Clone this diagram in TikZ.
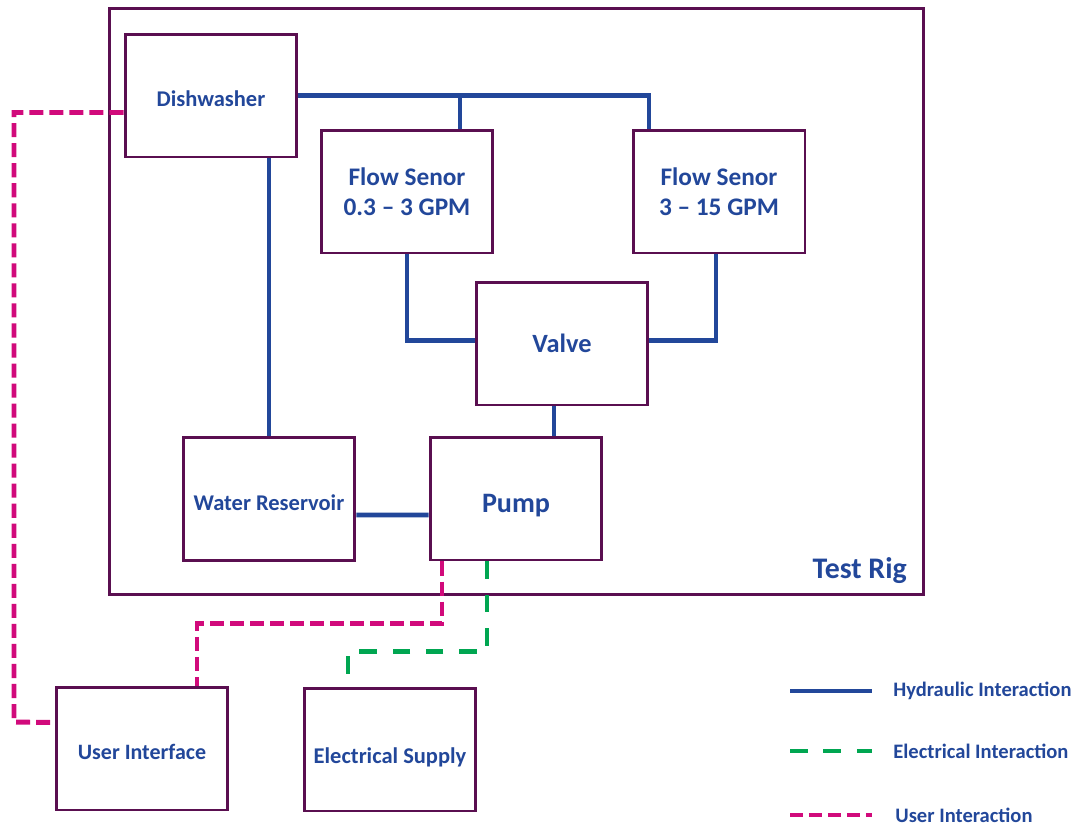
\documentclass[tikz,border=0pt]{standalone}
\usepackage{fontspec}
\setsansfont{Carlito}
\usetikzlibrary{calc}
\definecolor{rigpurple}{HTML}{5A0F50}
\definecolor{hydblue}{HTML}{22479A}
\definecolor{elecgreen}{HTML}{00A651}
\definecolor{usermagenta}{HTML}{D10A7B}

\begin{document}
\begin{tikzpicture}[
    x=0.02cm, y=-0.02cm,
    every node/.style={font=\sffamily\bfseries\fontsize{12.8}{15}\selectfont, text=hydblue},
    partbox/.style={
        draw=rigpurple,
        line width=1.7pt,
        fill=white,
        align=center,
        inner sep=2pt,
        minimum width=3.44cm,
        minimum height=2.46cm
    },
    bigtext/.style={font=\sffamily\bfseries\fontsize{14.4}{17}\selectfont},
    textdown/.style 2 args={text height=#1, text depth=#2},
    legendtext/.style={anchor=west, inner sep=0pt, font=\sffamily\bfseries\fontsize{11.7}{13}\selectfont},
    hydline/.style={draw=hydblue, line width=2.6pt},
    elecline/.style={draw=elecgreen, line width=2.6pt, dash pattern=on 10pt off 9pt},
    userline/.style={draw=usermagenta, line width=2.8pt, dash pattern=on 8pt off 3.4pt}
]
\useasboundingbox (0,0) rectangle (1085,826);

% ---------- test rig frame ----------
\node[draw=rigpurple, line width=1.7pt, minimum width=16.3cm, minimum height=11.74cm] (rig) at (516.5,301.5) {};
\node[anchor=south east, font=\sffamily\bfseries\fontsize{17}{20}\selectfont] (riglabel) at (913,590) {Test Rig};

% ---------- parts inside the rig ----------
\node[partbox, textdown={12.4pt}{0pt}] (dw) at (211,95.5) {Dishwasher};
\node[partbox, bigtext] (fslow) at (407,191.5) {Flow Senor\\0.3 -- 3 GPM};
\node[partbox, bigtext] (fshigh) at (719,191.5) {Flow Senor\\3 -- 15 GPM};
\node[partbox, font=\sffamily\bfseries\fontsize{15}{18}\selectfont] (valve) at (562,343.5) {Valve};
\node[partbox, textdown={15.8pt}{2.6pt}] (res) at (269,499) {Water Reservoir};
\node[partbox, font=\sffamily\bfseries\fontsize{16}{19}\selectfont, textdown={19.4pt}{3.3pt}] (pump) at (516,498.5) {Pump};

% ---------- parts outside the rig ----------
\node[partbox, font=\sffamily\bfseries\fontsize{12.5}{15}\selectfont, textdown={12.4pt}{0pt}] (ui) at (142,748.5) {User Interface};
\node[partbox, textdown={18pt}{2.6pt}] (supply) at (390,749.5) {Electrical Supply};

% ---------- hydraulic interaction ----------
\coordinate (fsbranch) at ($(fslow.north)+(53,0)$);
\coordinate (valveout) at ($(valve.south)+(-8,0)$);
\draw[hydline] (dw.east) -| ($(fshigh.north)+(-70,0)$);
\draw[hydline] (fsbranch) -- (fsbranch |- dw.east);
\draw[hydline] (res.north) -- (res.north |- dw.south);
\draw[hydline] (fslow.south) |- ($(valve.west)+(0,-3)$);
\draw[hydline] ($(fshigh.south)+(-3,0)$) |- ($(valve.east)+(0,-3)$);
\draw[hydline] (valveout) -- (valveout |- pump.north);
\draw[hydline] ($(res.east)+(0,16)$) -- ($(pump.west)+(0,16.5)$);

% ---------- user interaction ----------
\coordinate (uiturn) at (14,722);
\draw[userline] ($(dw.west)+(0,17)$) -| (uiturn) -- ($(ui.west)+(0,-26)$);
\draw[userline] ($(pump.south)+(-74,0)$) -- ++(0,62) -| ($(ui.north)+(55,0)$);

% ---------- electrical interaction ----------
\draw[elecline] ($(pump.south)+(-29,0)$) -- ++(0,90) -| ($(supply.north)+(-42,0)$);

% ---------- legend ----------
\node[legendtext] (hydtext) at (893,691) {Hydraulic Interaction};
\node[legendtext] (electext) at (893,751) {Electrical Interaction};
\node[legendtext] (usertext) at (895,815) {User Interaction};
\draw[hydline] ($(hydtext.west)+(-103,0)$) -- ($(hydtext.west)+(-21,0)$);
\draw[elecline] ($(electext.west)+(-103,0)$) -- ($(electext.west)+(-21,0)$);
\draw[userline, dash pattern=on 7.4pt off 3.4pt] ($(usertext.west)+(-105,0)$) -- ($(usertext.west)+(-23,0)$);

\end{tikzpicture}
\end{document}
